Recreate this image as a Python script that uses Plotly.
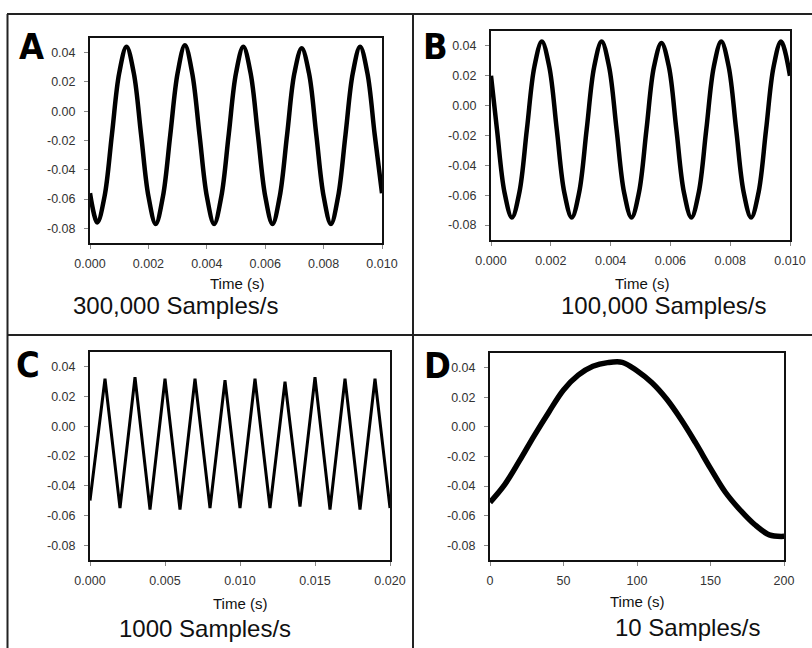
import plotly.graph_objects as go

# ---------------- data ----------------
# Panel A: 300,000 Samples/s
a_time = [0.0, 0.00025, 0.0005, 0.00075, 0.001, 0.00125, 0.0015, 0.00175,
          0.002, 0.00225, 0.0025, 0.00275, 0.003, 0.00325, 0.0035, 0.00375,
          0.004, 0.00425, 0.0045, 0.00475, 0.005, 0.00525, 0.0055, 0.00575,
          0.006, 0.00625, 0.0065, 0.00675, 0.007, 0.00725, 0.0075, 0.00775,
          0.008, 0.00825, 0.0085, 0.00875, 0.009, 0.00925, 0.0095, 0.00975, 0.010]
a_signal = [-0.056, -0.076, -0.058, -0.016, 0.026, 0.044, 0.026, -0.016,
            -0.058, -0.077, -0.058, -0.016, 0.026, 0.045, 0.026, -0.016,
            -0.058, -0.077, -0.058, -0.016, 0.026, 0.044, 0.026, -0.016,
            -0.058, -0.077, -0.058, -0.016, 0.026, 0.043, 0.026, -0.016,
            -0.058, -0.077, -0.058, -0.016, 0.026, 0.044, 0.026, -0.016, -0.056]

# Panel B: 100,000 Samples/s
b_time = [0.0, 0.0002, 0.00045, 0.0007, 0.00095, 0.0012, 0.00145, 0.0017,
          0.00195, 0.0022, 0.00245, 0.0027, 0.00295, 0.0032, 0.00345, 0.0037,
          0.00395, 0.0042, 0.00445, 0.0047, 0.00495, 0.0052, 0.00545, 0.0057,
          0.00595, 0.0062, 0.00645, 0.0067, 0.00695, 0.0072, 0.00745, 0.0077,
          0.00795, 0.0082, 0.00845, 0.0087, 0.00895, 0.0092, 0.00945, 0.0097, 0.010]
b_signal = [0.020, -0.016, -0.058, -0.075, -0.058, -0.016, 0.026, 0.043,
            0.026, -0.016, -0.058, -0.075, -0.058, -0.016, 0.026, 0.043,
            0.026, -0.016, -0.058, -0.075, -0.058, -0.016, 0.026, 0.042,
            0.026, -0.016, -0.058, -0.075, -0.058, -0.016, 0.026, 0.043,
            0.026, -0.016, -0.058, -0.075, -0.058, -0.016, 0.026, 0.043, 0.020]

# Panel C: 1000 Samples/s
c_time = [0.0, 0.001, 0.002, 0.003, 0.004, 0.005, 0.006, 0.007, 0.008, 0.009, 0.010,
          0.011, 0.012, 0.013, 0.014, 0.015, 0.016, 0.017, 0.018, 0.019, 0.020]
c_signal = [-0.050, 0.032, -0.055, 0.033, -0.056, 0.032, -0.056, 0.032, -0.055, 0.031, -0.055,
            0.032, -0.055, 0.030, -0.054, 0.033, -0.056, 0.032, -0.056, 0.032, -0.055]

# Panel D: 10 Samples/s
d_time = [0, 10, 20, 30, 40, 50, 60, 70, 80, 90, 100, 110, 120, 130, 140, 150,
          160, 170, 180, 190, 200]
d_signal = [-0.051, -0.039, -0.023, -0.006, 0.010, 0.025, 0.035, 0.041, 0.0435, 0.0437,
            0.038, 0.030, 0.019, 0.005, -0.011, -0.028, -0.044, -0.056, -0.066, -0.073,
            -0.074]

panel_letters = ["A", "B", "C", "D"]
rate_labels = ["300,000 Samples/s", "100,000 Samples/s", "1000 Samples/s", "10 Samples/s"]
x_title = "Time (s)"

y_tickvals = [-0.08, -0.06, -0.04, -0.02, 0.0, 0.02, 0.04]
y_ticktext = ["-0.08", "-0.06", "-0.04", "-0.02", "0.00", "0.02", "0.04"]
ab_tickvals = [0.0, 0.002, 0.004, 0.006, 0.008, 0.010]
ab_ticktext = ["0.000", "0.002", "0.004", "0.006", "0.008", "0.010"]
c_tickvals = [0.0, 0.005, 0.010, 0.015, 0.020]
c_ticktext = ["0.000", "0.005", "0.010", "0.015", "0.020"]
d_tickvals = [0, 50, 100, 150, 200]
d_ticktext = ["0", "50", "100", "150", "200"]

# ---------------- layout helpers ----------------
W, H = 812, 648


def fx(p):
    return p / W


def fy(p):
    return 1 - p / H


fig = go.Figure()

fig.add_trace(go.Scatter(x=a_time, y=a_signal, mode="lines", line=dict(color="black", width=4.5, shape="spline"),
                         xaxis="x", yaxis="y", showlegend=False))
fig.add_trace(go.Scatter(x=b_time, y=b_signal, mode="lines", line=dict(color="black", width=4.5, shape="spline"),
                         xaxis="x2", yaxis="y2", showlegend=False))
fig.add_trace(go.Scatter(x=c_time, y=c_signal, mode="lines", line=dict(color="black", width=3),
                         xaxis="x3", yaxis="y3", showlegend=False))
fig.add_trace(go.Scatter(x=d_time, y=d_signal, mode="lines", line=dict(color="black", width=5.5, shape="spline"),
                         xaxis="x4", yaxis="y4", showlegend=False))

tickfont = dict(family="Liberation Sans, Arial, sans-serif", size=12.5, color="#333")
common = dict(showline=True, linecolor="#111", linewidth=2, mirror=True, ticks="outside",
              ticklen=4, tickwidth=1, tickcolor="#888", showgrid=False, zeroline=False,
              tickfont=tickfont, tickmode="array", automargin=False)

boxes = {  # pixel boxes on the page: left, right, top, bottom
    1: (90, 382, 38, 243),
    2: (491, 790, 31, 240),
    3: (90, 390, 352, 560),
    4: (490, 784, 353, 560),
}
xranges = {1: [0, 0.010], 2: [0, 0.010], 3: [0, 0.020], 4: [0, 200]}
xticks = {1: (ab_tickvals, ab_ticktext), 2: (ab_tickvals, ab_ticktext),
          3: (c_tickvals, c_ticktext), 4: (d_tickvals, d_ticktext)}

layout = dict(width=W, height=H, margin=dict(l=0, r=0, t=0, b=0, pad=0), autosize=False,
              paper_bgcolor="white", plot_bgcolor="white", showlegend=False)
for i, (l, r, t, b) in boxes.items():
    sx = "" if i == 1 else str(i)
    layout["xaxis" + sx] = dict(common, domain=[fx(l), fx(r)], range=xranges[i], anchor="y" + sx,
                                tickvals=xticks[i][0], ticktext=xticks[i][1], ticklabelstandoff=4)
    layout["yaxis" + sx] = dict(common, domain=[fy(b), fy(t)], range=[-0.09, 0.05], anchor="x" + sx,
                                tickvals=y_tickvals, ticktext=y_ticktext, ticklabelstandoff=6)
fig.update_layout(**layout)

# panel frame lines
border = dict(color="#222", width=2)
fig.add_shape(type="line", xref="paper", yref="paper", x0=fx(7), x1=1, y0=fy(14), y1=fy(14), line=border)
fig.add_shape(type="line", xref="paper", yref="paper", x0=fx(7.5), x1=fx(7.5), y0=fy(14), y1=0, line=border)
fig.add_shape(type="line", xref="paper", yref="paper", x0=fx(413), x1=fx(413), y0=fy(14), y1=0, line=border)
fig.add_shape(type="line", xref="paper", yref="paper", x0=fx(7), x1=1, y0=fy(335), y1=fy(335), line=border)

letter_pos = [(31, 47), (435, 47), (28, 365), (437, 366)]
title_pos = [(237, 283), (642, 283), (240, 603), (637, 601)]
rate_pos = [(175, 305), (663, 305), (205, 628), (687, 627)]

for k in range(4):
    fig.add_annotation(x=fx(letter_pos[k][0]), y=fy(letter_pos[k][1]), xref="paper", yref="paper",
                       text="<b>" + panel_letters[k] + "</b>", showarrow=False,
                       font=dict(family="Liberation Sans Narrow, DejaVu Sans Condensed, sans-serif",
                                 size=36, color="black"),
                       xanchor="center", yanchor="middle")
    fig.add_annotation(x=fx(title_pos[k][0]), y=fy(title_pos[k][1]), xref="paper", yref="paper",
                       text=x_title, showarrow=False,
                       font=dict(family="Liberation Sans, Arial, sans-serif", size=15, color="#111"),
                       xanchor="center", yanchor="middle")
    fig.add_annotation(x=fx(rate_pos[k][0]), y=fy(rate_pos[k][1]), xref="paper", yref="paper",
                       text=rate_labels[k], showarrow=False,
                       font=dict(family="Liberation Sans, Arial, sans-serif", size=24, color="#111"),
                       xanchor="center", yanchor="middle")

fig.write_html("out.html", config={"displayModeBar": False},
               post_script="document.body.style.margin='0';")
